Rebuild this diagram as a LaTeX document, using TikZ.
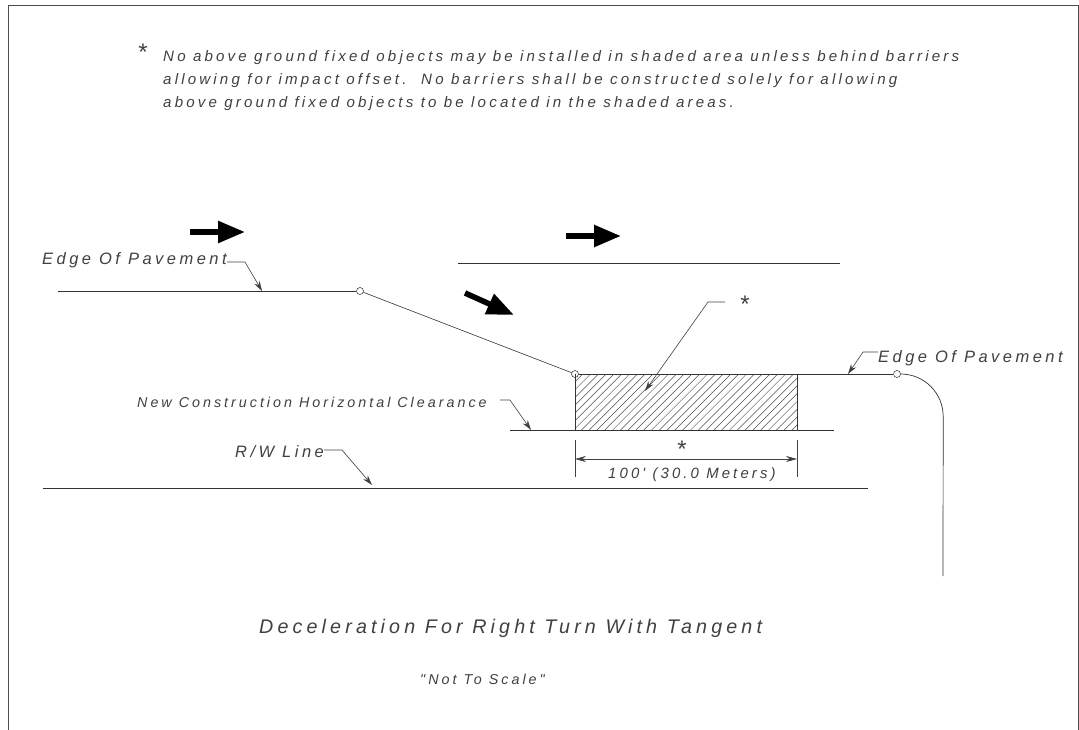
\documentclass[tikz,border=0pt]{standalone}
\usepackage{fontspec}
\setmainfont{Liberation Sans}
\newfontfamily\cadfont[LetterSpace=21]{Liberation Sans}
\usetikzlibrary{arrows.meta}
\begin{document}
\begin{tikzpicture}[x=1pt,y=-1pt,
 cadtext/.style={inner sep=0,anchor=base west,text=black!75,font=\cadfont\itshape\fontsize{#1}{#1}\selectfont},
 cadstar/.style={inner sep=0,text=black!75,font=\fontsize{24}{24}\selectfont},
 hinge/.style={circle,draw,inner sep=0,minimum size=7},
 edgeline/.style={draw=black!80,line width=.9},
 leader/.style={draw=black!75,line width=.6,-{Stealth[length=10,width=6]}},
 bigarrow/.style={line width=5.6,-{Triangle[length=27,width=21]}}]
\useasboundingbox (0,0) rectangle (1079,730);
\draw[black!70,line width=1] (8,735)--(8,6)--(1078,6)--(1078,735);
% note
\node[cadtext=15.1] (note1) at (163,62){No above ground fixed objects may be installed in shaded area unless behind barriers};
\node[cadtext=15.1] (note2) at (163,85){allowing for impact offset.\ \ No barriers shall be constructed solely for allowing};
\node[cadtext=15.1] (note3) at (163,108){above ground fixed objects to be located in the shaded areas.};
\node[cadstar] (notestar) at (143,52){*};
% pavement
\node[hinge] (hingeA) at (360,291){};
\node[hinge] (hingeB) at (575,374){};
\node[hinge] (hingeC) at (897,374){};
\coordinate (edgeL) at (58,291);
\coordinate (laneL) at (458,263);
\coordinate (laneR) at (840,263);
\coordinate (clearL) at (510,430);
\coordinate (clearR) at (834,430);
\coordinate (rwL) at (43,488);
\coordinate (rwR) at (868,488);
\coordinate (turnEnd) at (943,576);
\draw[edgeline] (edgeL)--(hingeA);
\draw[black!80,line width=.6] (hingeA)--(hingeB);
\draw[edgeline] (hingeB)--(hingeC);
\draw[black!80,line width=.7] (hingeC.east) arc[start angle=-90,end angle=0,radius=42.5]--(turnEnd);
\draw[edgeline] (laneL)--(laneR);
\draw[edgeline] (clearL)--(clearR);
\draw[edgeline] (rwL)--(rwR);
% shaded area
\begin{scope}
\clip (575,374) rectangle (797,430);
\foreach \x in {0,...,36}
 \draw[black!70,line width=.5] (575+7.8*\x-56,430)--(575+7.8*\x,374);
\end{scope}
\draw[black!80,line width=.7] (575,374)--(575,430) (797,374)--(797,430);
% big arrows
\foreach \name/\ax/\ay/\bx/\by in {one/190/232/245/232,two/566/236/621/236,three/465/293/514/315}
{\coordinate (\name a) at (\ax,\ay);
 \coordinate (\name b) at (\bx,\by);
 \draw[bigarrow] (\name a)--(\name b);
}
% labels
\node[cadtext=16.5] (edgeA) at (42,265){Edge Of Pavement};
\node[cadtext=16.5] (edgeB) at (878,362){Edge Of Pavement};
\node[cadtext=14.3] (clear) at (137,407){New Construction Horizontal Clearance};
\node[cadtext=16.5] (rwline) at (235,457){R/W Line};
\node[cadstar] (areastar) at (745,304){*};
\coordinate (edgeAk) at (245,262);
\coordinate (edgeAt) at (262,291);
\coordinate (edgeBk) at (863,352);
\coordinate (edgeBt) at (848,374);
\coordinate (clearS) at (500,400);
\coordinate (clearK) at (510,400);
\coordinate (clearT) at (531,430);
\coordinate (rwK) at (342,450);
\coordinate (rwT) at (372,485);
\coordinate (areaS) at (725,302);
\coordinate (areaK) at (708,302);
\coordinate (areaT) at (645,391);
\draw[leader] (edgeA.east |- edgeAk)--(edgeAk)--(edgeAt);
\draw[leader] (edgeB.west |- edgeBk)--(edgeBk)--(edgeBt);
\draw[leader] (clearS)--(clearK)--(clearT);
\draw[leader] (rwline.east |- rwK)--(rwK)--(rwT);
\draw[leader] (areaS)--(areaK)--(areaT);
% dimension
\coordinate (dimLa) at (575,440);
\coordinate (dimLb) at (575,477);
\coordinate (dimRa) at (797,440);
\coordinate (dimRb) at (797,477);
\coordinate (dimL) at (575,459);
\coordinate (dimR) at (797,459);
\draw[black!75,line width=.6] (dimLa)--(dimLb) (dimRa)--(dimRb);
\draw[black!75,line width=.6,{Stealth[length=11,width=6]}-{Stealth[length=11,width=6]}] (dimL)--(dimR);
\node[cadstar] (dimstar) at (682,449){*};
\node[cadtext=14.9] (dimtext) at (608,478){100' (30.0 Meters)};
% title
\node[cadtext=19.7] (title) at (259,633){Deceleration For Right Turn With Tangent};
\node[cadtext=14.3] (scale) at (420,684){"Not To Scale"};
\end{tikzpicture}
\end{document}
